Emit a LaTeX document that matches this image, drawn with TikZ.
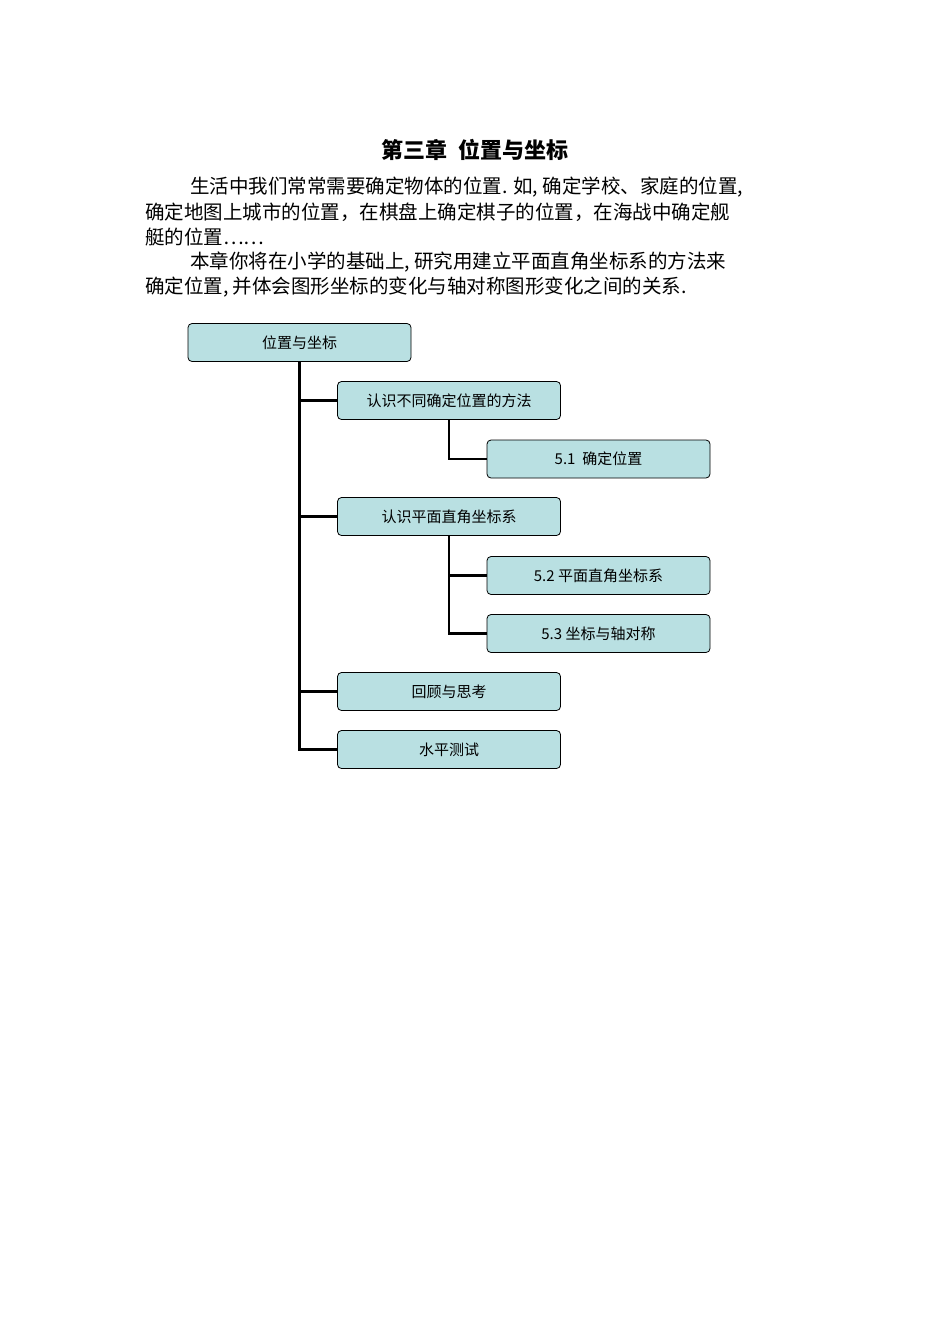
\documentclass[tikz,border=0pt]{standalone}
\usepackage{fontspec}
\newfontfamily\cjk{Noto Sans CJK SC}
\definecolor{boxfill}{RGB}{185,224,226}
\begin{document}
\begin{tikzpicture}[x=1pt,y=-1pt,
  box/.style={draw=black,fill=boxfill,rounded corners=4pt,minimum width=223pt,minimum height=38pt,font=\cjk\fontsize{15}{17}\selectfont,line width=0.8pt},
  conn/.style={line width=2.5pt},
  txt/.style={anchor=west,inner sep=0pt,font=\cjk\fontsize{19.5}{22}\selectfont}]
\useasboundingbox (0,0) rectangle (950,1344);
\node[font=\cjk\bfseries\fontsize{22}{24}\selectfont] (title) at (475,150) {第三章\ \ 位置与坐标};
\node[txt] (l1) at (190,187) {生活中我们常常需要确定物体的位置. 如, 确定学校、家庭的位置,};
\node[txt] (l2) at (145,212) {确定地图上城市的位置，在棋盘上确定棋子的位置，在海战中确定舰};
\node[txt] (l3) at (145,237) {艇的位置……};
\node[txt] (l4) at (190,262) {本章你将在小学的基础上, 研究用建立平面直角坐标系的方法来};
\node[txt] (l5) at (145,287) {确定位置, 并体会图形坐标的变化与轴对称图形变化之间的关系.};
\node[box] (root) at (299.5,342.5) {位置与坐标};
\node[box] (a) at (449,400.5) {认识不同确定位置的方法};
\node[box] (a1) at (598.5,459) {5.1\ \ 确定位置};
\node[box] (b) at (449,516.5) {认识平面直角坐标系};
\node[box] (b1) at (598.5,575.5) {5.2 平面直角坐标系};
\node[box] (b2) at (598.5,633.5) {5.3 坐标与轴对称};
\node[box] (c) at (449,691.5) {回顾与思考};
\node[box] (d) at (449,749.5) {水平测试};
\draw[conn] (root.south) -- (root.south |- d.west) -- (d.west);
\foreach \n in {a,b,c} \draw[conn] (root.south |- \n.west) -- (\n.west);
\draw[conn] (a.south) -- (a.south |- a1.west) -- (a1.west);
\draw[conn] (b.south) -- (b.south |- b2.west) -- (b2.west);
\draw[conn] (b.south |- b1.west) -- (b1.west);
\end{tikzpicture}
\end{document}
